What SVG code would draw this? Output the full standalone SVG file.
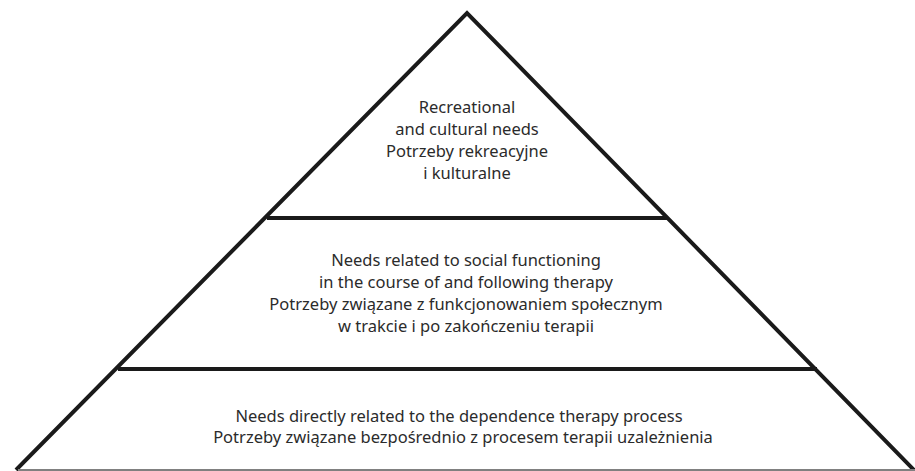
<svg xmlns="http://www.w3.org/2000/svg" width="915" height="471" viewBox="0 0 915 471">
<style>
.edge{stroke:#1a1a1a;stroke-width:4;fill:none;stroke-linejoin:miter}
.base{stroke:#808080;stroke-width:2;fill:none}
.lbl{font-family:"Noto Sans","Open Sans",sans-serif;font-size:16.5px;fill:#2b2b2b;text-anchor:middle}
</style>
<rect width="915" height="471" fill="#fff"/>
<g id="connectors">
<polyline class="edge" points="16,470 467,13 914,470"/>
<line class="edge" x1="267" y1="218" x2="668" y2="218"/>
<line class="edge" x1="118" y1="369" x2="817" y2="369"/>
<line class="base" x1="18" y1="470" x2="915" y2="470"/>
</g>
<g id="top">
<text class="lbl" x="467" y="113">Recreational</text>
<text class="lbl" x="467" y="135">and cultural needs</text>
<text class="lbl" x="467" y="157">Potrzeby rekreacyjne</text>
<text class="lbl" x="467" y="179">i kulturalne</text>
</g>
<g id="middle">
<text class="lbl" x="466" y="266">Needs related to social functioning</text>
<text class="lbl" x="466" y="288">in the course of and following therapy</text>
<text class="lbl" x="466" y="310">Potrzeby związane z funkcjonowaniem społecznym</text>
<text class="lbl" x="466" y="332">w trakcie i po zakończeniu terapii</text>
</g>
<g id="bottom">
<text class="lbl" x="459" y="422">Needs directly related to the dependence therapy process</text>
<text class="lbl" x="463" y="443">Potrzeby związane bezpośrednio z procesem terapii uzależnienia</text>
</g>
</svg>
